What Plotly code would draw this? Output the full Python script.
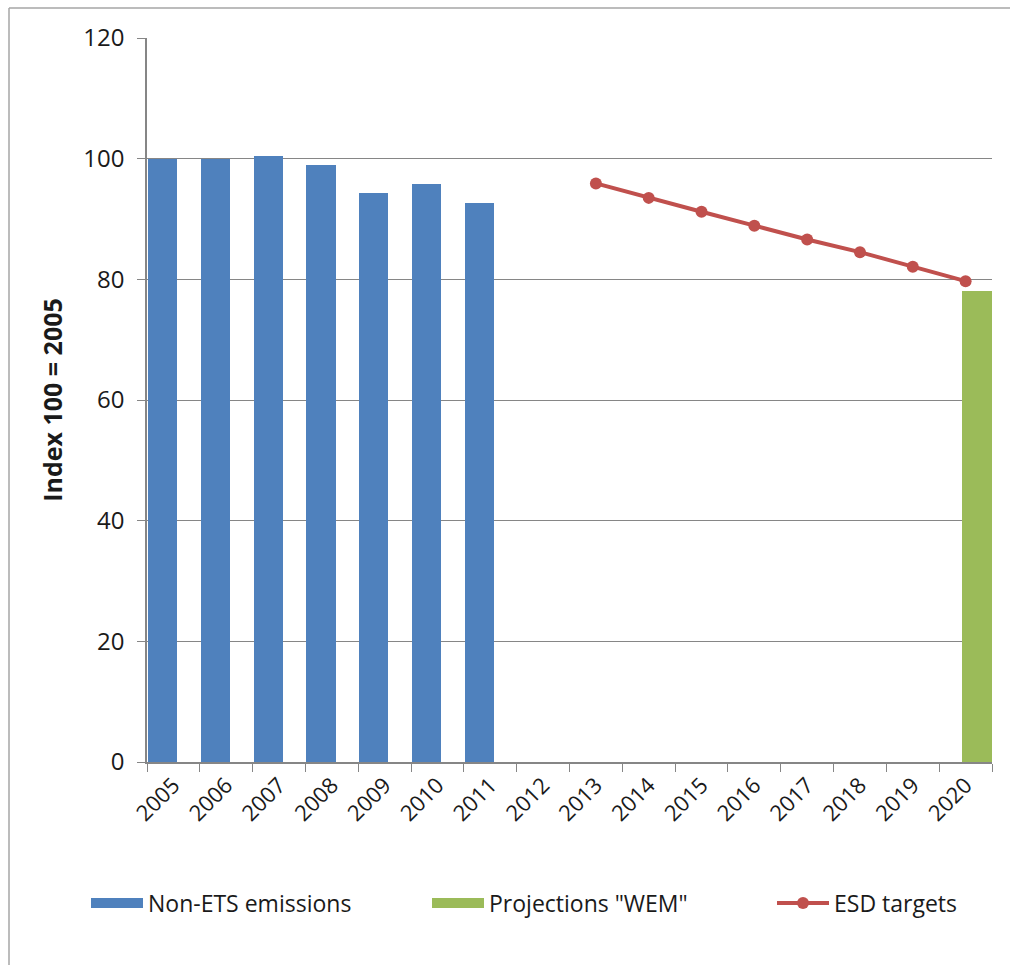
import plotly.graph_objects as go

# Years on the category axis
years = [str(y) for y in range(2005, 2021)]

# Non-ETS emissions index (2005 = 100)
emis_years = ["2005", "2006", "2007", "2008", "2009", "2010", "2011"]
emis_values = [100.0, 100.0, 100.5, 99.0, 94.3, 95.8, 92.7]

# WEM projection for 2020
proj_years = ["2020"]
proj_values = [78.0]

# ESD target trajectory
esd_years = ["2013", "2014", "2015", "2016", "2017", "2018", "2019", "2020"]
esd_values = [95.9, 93.5, 91.2, 88.9, 86.6, 84.5, 82.1, 79.7]

y_ticks = [0, 20, 40, 60, 80, 100, 120]

FONT = "Open Sans"
W, H = 1010, 965
ML, MR, MT, MB = 147, 18, 38, 203
PW, PH = W - ML - MR, H - MT - MB

BLUE, GREEN, RED = "#4F81BD", "#9BBB59", "#C0504D"


def px_x(px):
    """Horizontal pixel position -> paper coordinate."""
    return (px - ML) / PW


def px_y(py):
    """Vertical pixel position -> paper coordinate."""
    return (H - MB - py) / PH


fig = go.Figure()

fig.add_trace(go.Bar(
    x=emis_years, y=emis_values, name="Non-ETS emissions",
    marker=dict(color=BLUE, line=dict(width=0)),
    offset=-0.48, width=0.55, showlegend=False,
))
fig.add_trace(go.Bar(
    x=proj_years, y=proj_values, name='Projections "WEM"',
    marker=dict(color=GREEN, line=dict(width=0)),
    offset=-0.065, width=0.565, showlegend=False,
))
fig.add_trace(go.Scatter(
    x=esd_years, y=esd_values, name="ESD targets", mode="lines+markers",
    line=dict(color=RED, width=4),
    marker=dict(color=RED, size=12),
    legend="legend3",
))

# wide rectangular legend keys for the two bar series
fig.add_trace(go.Scatter(
    x=[None], y=[None], name="Non-ETS emissions", mode="lines",
    line=dict(color=BLUE, width=15), legend="legend",
))
fig.add_trace(go.Scatter(
    x=[None], y=[None], name='Projections "WEM"', mode="lines",
    line=dict(color=GREEN, width=15), legend="legend2",
))

# outer chart-area border (left and top edges visible)
bx0 = px_x(9)
by1 = px_y(8)
fig.add_shape(type="line", xref="paper", yref="paper",
              x0=bx0, x1=px_x(W + 5), y0=by1, y1=by1,
              line=dict(color="#A6A6A6", width=1.5))
fig.add_shape(type="line", xref="paper", yref="paper",
              x0=bx0, x1=bx0, y0=by1, y1=px_y(H + 5),
              line=dict(color="#A6A6A6", width=1.5))

legend_common = dict(
    orientation="h", yanchor="middle", y=px_y(903), xanchor="left",
    font=dict(family=FONT, size=23, color="#1a1a1a"),
    itemwidth=52, bgcolor="rgba(0,0,0,0)",
)

fig.update_layout(
    width=W, height=H,
    margin=dict(l=ML, r=MR, t=MT, b=MB),
    paper_bgcolor="white", plot_bgcolor="white",
    font=dict(family=FONT, size=22, color="#1a1a1a"),
    showlegend=True,
    legend=dict(legend_common, x=px_x(86)),
    legend2=dict(legend_common, x=px_x(427)),
    legend3=dict(legend_common, x=px_x(772)),
    bargap=0,
)

fig.update_xaxes(
    type="category", categoryorder="array", categoryarray=years,
    range=[-0.5, len(years) - 0.5],
    tickson="boundaries", ticks="outside", ticklen=8, tickcolor="#868686",
    tickangle=-45, showgrid=False,
    showline=True, linecolor="#868686", linewidth=1.5,
    tickfont=dict(family=FONT, size=22, color="#1a1a1a"),
)
fig.update_yaxes(
    range=[0, 120], tickvals=y_ticks, ticks="outside", ticklen=8,
    tickcolor="#868686", ticklabelstandoff=8,
    showgrid=True, gridcolor="#868686", gridwidth=1.2,
    showline=True, linecolor="#868686", linewidth=1.5,
    zeroline=False,
    tickfont=dict(family=FONT, size=24, color="#1a1a1a"),
    title=dict(text="<b>Index 100 = 2005</b>",
               font=dict(family=FONT, size=25, color="#1a1a1a"),
               standoff=14),
)

fig.write_html("out.html")
